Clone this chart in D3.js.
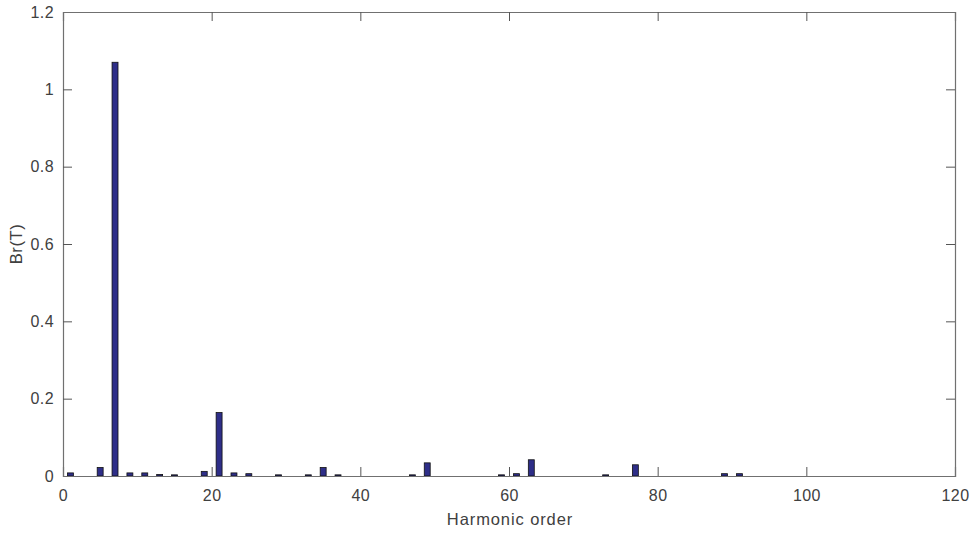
<!DOCTYPE html>
<html><head><meta charset="utf-8">
<script src="https://cdn.jsdelivr.net/npm/d3@7"></script>
<style>body{margin:0;background:#fff;}svg{display:block;}</style>
</head><body>
<script>
const orders = [1,5,7,9,11,13,15,19,21,23,25,29,33,35,37,47,49,59,61,63,73,77,89,91];
const values = [0.008,0.022,1.07,0.008,0.008,0.004,0.003,0.012,0.164,0.008,0.006,0.003,0.003,0.022,0.003,0.003,0.034,0.003,0.006,0.042,0.003,0.029,0.006,0.006];
const xTicks = [0,20,40,60,80,100,120];
const yTicks = [0,0.2,0.4,0.6,0.8,1,1.2];
const xLabel = "Harmonic order", yLabel = "Br(T)";

const W=976,H=535, L=63,R=955,T=12,B=476;
const svg=d3.select("body").append("svg").attr("width",W).attr("height",H);
const x=d3.scaleLinear().domain([0,120]).range([L,R]);
const y=d3.scaleLinear().domain([0,1.2]).range([B,T]);
const bw = x(0.8)-x(0);
const axisColor="#707070", font="Helvetica, Arial, 'Liberation Sans', sans-serif";

svg.append("g").selectAll("rect").data(orders).join("rect")
  .attr("x",(d)=>x(d)-bw/2).attr("width",bw)
  .attr("y",(d,i)=>y(values[i])).attr("height",(d,i)=>y(0)-y(values[i]))
  .attr("fill","#2e2e88").attr("stroke","#111").attr("stroke-width",0.8);

const tk=9;
const fmt=d=>String(+d.toFixed(1));
const gb=svg.append("g").attr("transform",`translate(0,${B})`)
  .call(d3.axisBottom(x).tickValues(xTicks).tickSize(-tk).tickPadding(14).tickFormat(fmt));
const gt=svg.append("g").attr("transform",`translate(0,${T})`)
  .call(d3.axisTop(x).tickValues(xTicks).tickSize(-tk).tickFormat(""));
const gl=svg.append("g").attr("transform",`translate(${L},0)`)
  .call(d3.axisLeft(y).tickValues(yTicks).tickSize(-tk).tickPadding(9).tickFormat(fmt));
const gr=svg.append("g").attr("transform",`translate(${R},0)`)
  .call(d3.axisRight(y).tickValues(yTicks).tickSize(-tk).tickFormat(""));
[gb,gt,gl,gr].forEach(g=>{
  g.select(".domain").attr("stroke",axisColor).attr("stroke-width",1.2);
  g.selectAll(".tick line").attr("stroke","#555");
  g.selectAll("text").attr("fill","#404040").style("font-family",font).style("font-size","16px").style("letter-spacing","0.4px");
});
gb.selectAll(".tick line").filter(d=>d===0||d===120).remove();
gt.selectAll(".tick line").filter(d=>d===0||d===120).remove();
gl.selectAll(".tick line").filter(d=>d===0||d===1.2).remove();
gr.selectAll(".tick line").filter(d=>d===0||d===1.2).remove();

svg.append("text").attr("x",(L+R)/2+1).attr("y",525).attr("text-anchor","middle")
  .attr("fill","#404040").style("font-family",font).style("font-size","16.5px").style("letter-spacing","0.9px").text(xLabel);
svg.append("text").attr("transform",`translate(22,${(T+B)/2}) rotate(-90)`).attr("text-anchor","middle")
  .attr("fill","#404040").style("font-family",font).style("font-size","16.5px").style("letter-spacing","0.6px").text(yLabel);
</script>
</body></html>
